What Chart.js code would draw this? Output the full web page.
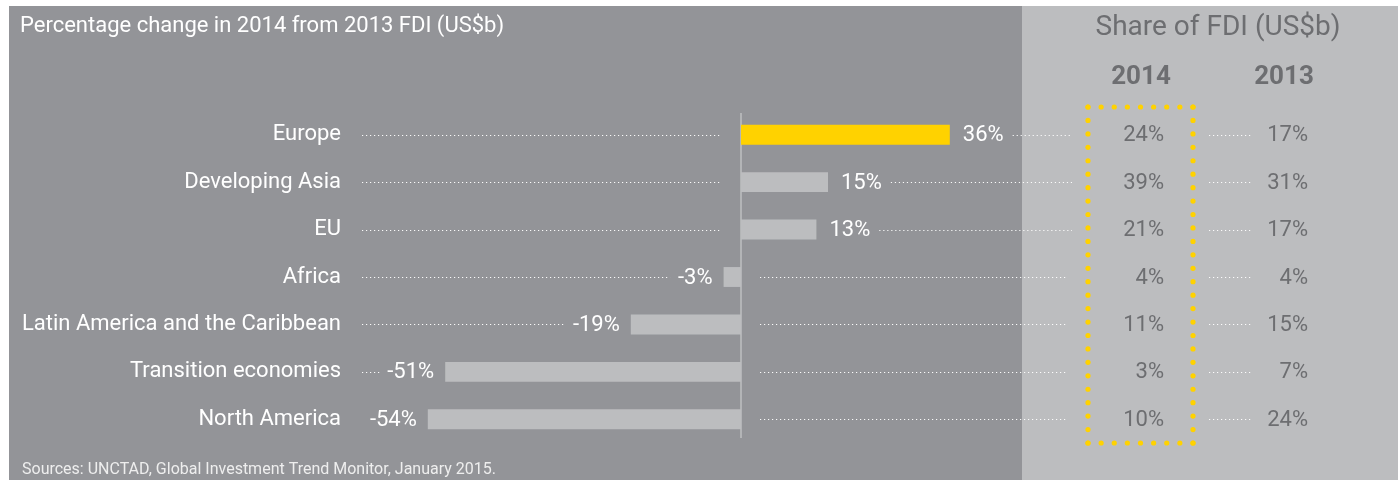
<!DOCTYPE html>
<html>
<head>
<meta charset="utf-8">
<script src="https://cdn.jsdelivr.net/npm/chart.js@4"></script>
<style>
  html, body { margin: 0; padding: 0; background: #ffffff; }
  canvas { display: block; }
</style>
</head>
<body>
<canvas id="c" width="1398" height="480"></canvas>
<script>
// ---- data ----
const categories = ['Europe', 'Developing Asia', 'EU', 'Africa', 'Latin America and the Caribbean', 'Transition economies', 'North America'];
const changePct = [36, 15, 13, -3, -19, -51, -54];
const share2014 = [24, 39, 21, 4, 11, 3, 10];
const share2013 = [17, 31, 17, 4, 15, 7, 24];
const shareYears = ['2014', '2013'];
const highlightCategory = 'Europe';
const titleText = 'Percentage change in 2014 from 2013 FDI (US$b)';
const shareTitle = 'Share of FDI (US$b)';
const sourceText = 'Sources: UNCTAD, Global Investment Trend Monitor, January 2015.';

// ---- styles ----
const FONT = 'Roboto, "Liberation Sans", sans-serif';
const DARK = '#939498';
const LIGHT = '#bcbdbf';
const YELLOW = '#ffd200';
const TEXT_DARK = '#6d6e71';

function dottedLine(ctx, x1, x2, y) {
  if (x2 - x1 < 2) return;
  ctx.save();
  ctx.strokeStyle = 'rgba(255,255,255,0.95)';
  ctx.lineWidth = 1.2;
  ctx.setLineDash([1.2, 2.8]);
  ctx.beginPath();
  ctx.moveTo(x1, Math.round(y) + 0.5);
  ctx.lineTo(x2, Math.round(y) + 0.5);
  ctx.stroke();
  ctx.restore();
}

function dotSide(ctx, x1, y1, x2, y2) {
  const len = Math.hypot(x2 - x1, y2 - y1);
  const n = Math.max(1, Math.round(len / 13.3));
  for (let i = 0; i <= n; i++) {
    const t = i / n;
    ctx.beginPath();
    ctx.arc(x1 + (x2 - x1) * t, y1 + (y2 - y1) * t, 2.6, 0, Math.PI * 2);
    ctx.fill();
  }
}

const decorPlugin = {
  id: 'decor',
  beforeDraw(chart) {
    const ctx = chart.ctx;
    ctx.save();
    ctx.fillStyle = '#ffffff';
    ctx.fillRect(0, 0, 1398, 480);
    ctx.fillStyle = DARK;
    ctx.fillRect(9, 6, 1013, 474);
    ctx.fillStyle = LIGHT;
    ctx.fillRect(1022, 6, 376, 474);

    // titles
    ctx.textBaseline = 'middle';
    ctx.fillStyle = '#ffffff';
    ctx.font = '22px ' + FONT;
    ctx.textAlign = 'left';
    ctx.fillText(titleText, 20, 26);

    ctx.fillStyle = TEXT_DARK;
    ctx.textAlign = 'center';
    ctx.font = '28px ' + FONT;
    ctx.fillText(shareTitle, 1218, 28);
    ctx.font = 'bold 26px ' + FONT;
    ctx.fillText(shareYears[0], 1141, 77);
    ctx.fillText(shareYears[1], 1284, 77);

    // source
    ctx.font = '16px ' + FONT;
    ctx.fillStyle = '#eeeeee';
    ctx.textAlign = 'left';
    ctx.fillText(sourceText, 22, 470);
    ctx.restore();
  },
  beforeDatasetsDraw(chart) {
    const ctx = chart.ctx;
    const xs = chart.scales.x;
    const ca = chart.chartArea;
    const x0 = xs.getPixelForValue(0);
    ctx.save();
    ctx.strokeStyle = LIGHT;
    ctx.lineWidth = 1.6;
    ctx.beginPath();
    ctx.moveTo(x0, ca.top + 2);
    ctx.lineTo(x0, ca.bottom - 5);
    ctx.stroke();
    ctx.restore();
  },
  afterDatasetsDraw(chart) {
    const ctx = chart.ctx;
    const xs = chart.scales.x;
    const ys = chart.scales.y;
    const x0 = xs.getPixelForValue(0);
    ctx.save();
    ctx.font = '22px ' + FONT;
    ctx.textBaseline = 'middle';
    categories.forEach((cat, i) => {
      const y = ys.getPixelForValue(i);
      const v = changePct[i];
      const xe = xs.getPixelForValue(v);
      const lbl = v + '%';
      const w = ctx.measureText(lbl).width;
      ctx.fillStyle = '#ffffff';
      if (v >= 0) {
        const lx = xe + 13;
        ctx.textAlign = 'left';
        ctx.fillText(lbl, lx, y + 1);
        dottedLine(ctx, 362, x0 - 20, y);
        dottedLine(ctx, lx + w + 9, 1072, y);
      } else {
        const rx = xe - 11;
        ctx.textAlign = 'right';
        ctx.fillText(lbl, rx, y + 1);
        dottedLine(ctx, 362, rx - w - 8, y);
        dottedLine(ctx, x0 + 19, 1066, y);
      }
      // share columns
      ctx.fillStyle = TEXT_DARK;
      ctx.textAlign = 'right';
      ctx.fillText(share2014[i] + '%', 1164, y + 1);
      ctx.fillText(share2013[i] + '%', 1308, y + 1);
      dottedLine(ctx, 1209, 1253, y);
    });
    // yellow dotted highlight box around 2014 column
    ctx.fillStyle = YELLOW;
    const L = 1088, R = 1193, T = 107, B = 443;
    dotSide(ctx, L, T, R, T);
    dotSide(ctx, L, B, R, B);
    dotSide(ctx, L, T, L, B);
    dotSide(ctx, R, T, R, B);
    ctx.restore();
  }
};

new Chart(document.getElementById('c'), {
  type: 'bar',
  data: {
    labels: categories,
    datasets: [{
      data: changePct,
      backgroundColor: categories.map(c => c === highlightCategory ? YELLOW : LIGHT),
      borderWidth: 0,
      categoryPercentage: 1,
      barPercentage: 0.42
    }]
  },
  options: {
    indexAxis: 'y',
    responsive: false,
    devicePixelRatio: 1,
    animation: false,
    layout: { padding: { left: 0, right: 425, top: 111, bottom: 37 } },
    plugins: { legend: { display: false }, tooltip: { enabled: false }, title: { display: false } },
    scales: {
      x: { type: 'linear', min: -60, max: 40, display: false },
      y: {
        type: 'category',
        grid: { display: false, drawTicks: false },
        border: { display: false },
        ticks: { color: '#ffffff', font: { family: FONT, size: 22 }, padding: 52 },
        afterFit(scale) {
          scale.width = 393;
          scale.paddingTop = 0;
          scale.paddingBottom = 0;
        }
      }
    }
  },
  plugins: [decorPlugin]
});
</script>
</body>
</html>
